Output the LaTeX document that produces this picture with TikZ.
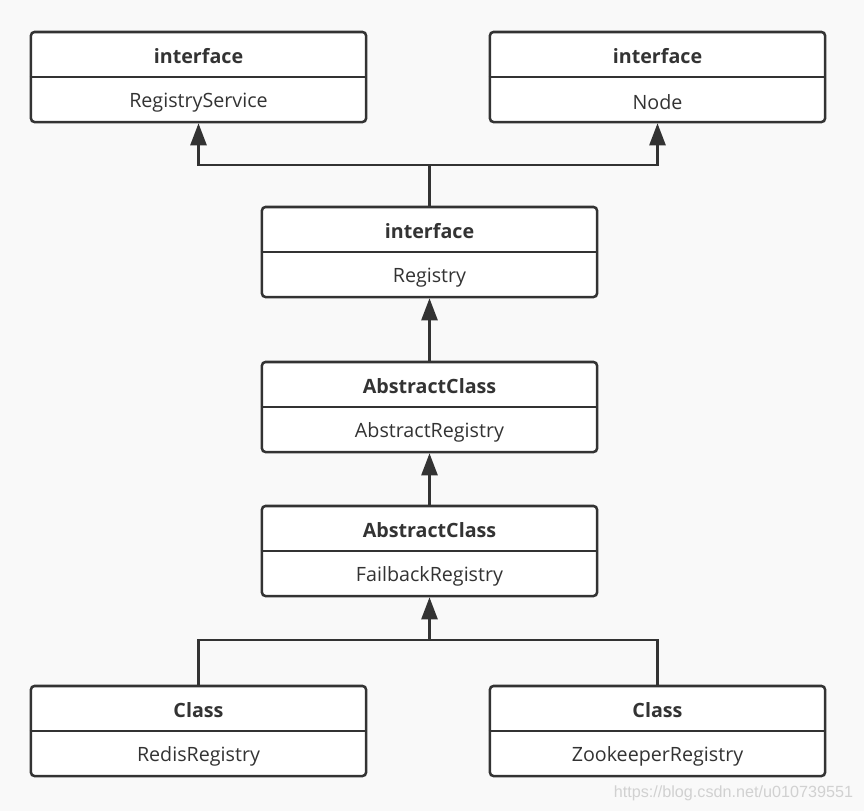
\documentclass[tikz,border=0pt]{standalone}
\usepackage{fontspec}
\setmainfont{Open Sans}
\newfontfamily\markfont{Liberation Sans}
\usetikzlibrary{arrows.meta,calc}

\definecolor{ink}{HTML}{333333}
\definecolor{paper}{HTML}{F9F9F9}

\tikzset{
  umlbox/.style={draw=ink, fill=white, line width=1.8pt, rounded corners=2.5pt,
    minimum width=8.375cm, minimum height=2.25cm, inner sep=0pt},
  umlline/.style={draw=ink, line width=1.8pt},
  inherit/.style={umlline, -{Triangle[length=5.5mm,width=4mm]}},
  umltext/.style={text=ink, font=\fontsize{14}{16}\selectfont, yshift=-1.5pt},
}

% box with a stereotype part and a name part
\newcommand{\umlclass}[4]{%
  \node[umlbox] (#1) at (#2) {};
  \draw[umlline] (#1.west) -- (#1.east);
  \node[umltext, font=\fontsize{14}{16}\selectfont\bfseries] (#1-head) at ($(#1.north)!0.5!(#1.center)$) {#3};
  \node[umltext] (#1-body) at ($(#1.center)!0.5!(#1.south)$) {#4};
}

\begin{document}
\begin{tikzpicture}[x=0.025cm,y=-0.025cm]
\fill[paper] (0,0) rectangle (864,811);
\useasboundingbox (0,0) rectangle (864,811);

\umlclass{regservice}{198.5,77}{interface}{RegistryService}
\umlclass{node}{657.5,77}{interface}{Node}
\umlclass{registry}{429.5,252}{interface}{Registry}
\umlclass{abstract}{429.5,407}{AbstractClass}{AbstractRegistry}
\umlclass{failback}{429.5,551}{AbstractClass}{FailbackRegistry}
\umlclass{redis}{198.5,731}{Class}{RedisRegistry}
\umlclass{zookeeper}{657.5,731}{Class}{ZookeeperRegistry}

\coordinate (topjoin) at (429.5,165);
\coordinate (botjoin) at (429.5,640);

% Registry extends RegistryService and Node
\draw[umlline] (registry.north) -- (topjoin);
\draw[inherit] (topjoin) -| (regservice.south);
\draw[inherit] (topjoin) -| (node.south);

\draw[inherit] (abstract.north) -- (registry.south);
\draw[inherit] (failback.north) -- (abstract.south);

% the two concrete registries
\draw[umlline] (redis.north) |- (botjoin) -| (zookeeper.north);
\draw[inherit] (botjoin) -- (failback.south);

\node[text=black!18, font=\markfont\fontsize{11.5}{13}\selectfont, anchor=east] (mark) at (858,793) {https://blog.csdn.net/u010739551};
\end{tikzpicture}
\end{document}
